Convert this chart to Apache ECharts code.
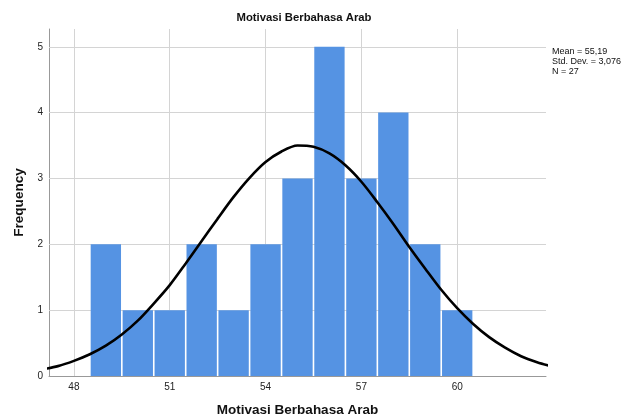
<!DOCTYPE html>
<html><head><meta charset="utf-8">
<script src="https://cdn.jsdelivr.net/npm/echarts@6/dist/echarts.min.js"></script>
<style>html,body{margin:0;padding:0;background:#fff}#c{width:624px;height:417px}</style>
</head><body><div id="c"></div>
<script>
// Histogram bins (value ranges) and their frequencies
const binStarts = [48.5, 49.5, 50.5, 51.5, 52.5, 53.5, 54.5, 55.5, 56.5, 57.5, 58.5, 59.5];
const binEnds   = [49.5, 50.5, 51.5, 52.5, 53.5, 54.5, 55.5, 56.5, 57.5, 58.5, 59.5, 60.5];
const counts    = [2, 1, 1, 2, 1, 2, 3, 5, 3, 4, 2, 1];
// Fitted normal curve
const curveX = [47, 47.5, 48, 48.5, 49, 49.5, 50, 50.5, 51, 51.5, 52, 52.5, 53, 53.5, 54, 54.5, 55, 55.5, 56, 56.5, 57, 57.5, 58, 58.5, 59, 59.5, 60, 60.5, 61, 61.5, 62, 62.5, 63];
const curveY = [0.10, 0.15, 0.23, 0.33, 0.46, 0.63, 0.84, 1.10, 1.38, 1.71, 2.05, 2.39, 2.72, 3.01, 3.25, 3.41, 3.50, 3.48, 3.38, 3.20, 2.95, 2.64, 2.31, 1.96, 1.63, 1.31, 1.03, 0.79, 0.59, 0.43, 0.30, 0.21, 0.14];
// Axis ticks
const xTicks = [48, 51, 54, 57, 60];
const yTicks = [0, 1, 2, 3, 4, 5];
// Texts
const titleText = 'Motivasi Berbahasa Arab';
const xName = 'Motivasi Berbahasa Arab';
const yName = 'Frequency';
const statLines = ['Mean = 55,19', 'Std. Dev. = 3,076', 'N = 27'];

const font = 'Arial, "Liberation Sans", sans-serif';
const chart = echarts.init(document.getElementById('c'), null, {renderer: 'canvas'});

const barData = binStarts.map((s, i) => [s, binEnds[i], counts[i]]);
const curveData = curveX.map((x, i) => [x, curveY[i]]);
const gridLines = xTicks.map(v => ({xAxis: v})).concat(yTicks.filter(v => v > 0).map(v => ({yAxis: v})));

chart.setOption({
  animation: false,
  backgroundColor: '#fff',
  textStyle: {fontFamily: font},
  grid: {left: 49, right: 78, top: 29, bottom: 41, containLabel: false, outerBoundsMode: 'none'},
  graphic: [
    {type: 'text', x: 304, y: 18, style: {text: titleText, font: 'bold 11.3px ' + font, fill: '#111', align: 'center', verticalAlign: 'middle'}},
    {type: 'text', x: 552, y: 47, style: {text: statLines.join('\n'), font: '9px ' + font, lineHeight: 10, fill: '#111', align: 'left', verticalAlign: 'top'}}
  ],
  xAxis: {
    type: 'value', min: 47.22, max: 62.78,
    name: xName, nameLocation: 'middle', nameGap: 27,
    nameTextStyle: {fontSize: 13.5, fontWeight: 'bold', color: '#111', fontFamily: font},
    axisLine: {show: true, lineStyle: {color: '#999', width: 1}},
    axisTick: {show: false},
    splitLine: {show: false},
    axisLabel: {customValues: xTicks, color: '#222', fontSize: 10, margin: 6, fontFamily: font}
  },
  yAxis: {
    type: 'value', min: 0, max: 5.27,
    name: yName, nameLocation: 'middle', nameGap: 20, nameRotate: 90,
    nameTextStyle: {fontSize: 13.6, fontWeight: 'bold', color: '#111', fontFamily: font},
    axisLine: {show: true, lineStyle: {color: '#999', width: 1}},
    axisTick: {show: false},
    splitLine: {show: false},
    axisLabel: {customValues: yTicks, color: '#222', fontSize: 10, margin: 6, fontFamily: font}
  },
  series: [
    {
      type: 'line', data: [], z: 1, silent: true,
      markLine: {
        z: 1, silent: true, symbol: ['none', 'none'], label: {show: false},
        lineStyle: {color: '#d4d4d4', width: 1, type: 'solid'},
        emphasis: {disabled: true},
        data: gridLines
      }
    },
    {
      type: 'custom', z: 2, data: barData, encode: {x: [0, 1], y: 2},
      renderItem: function (params, api) {
        const p0 = api.coord([api.value(0), api.value(2)]);
        const p1 = api.coord([api.value(1), 0]);
        return {type: 'rect', shape: {x: p0[0] + 0.8, y: p0[1], width: p1[0] - p0[0] - 1.6, height: p1[1] - p0[1]},
                style: {fill: '#5593E3'}};
      }
    },
    {
      type: 'line', z: 3, data: curveData, smooth: 0.3, showSymbol: false, clip: true,
      lineStyle: {color: '#000', width: 2.6}
    }
  ]
});
</script></body></html>
